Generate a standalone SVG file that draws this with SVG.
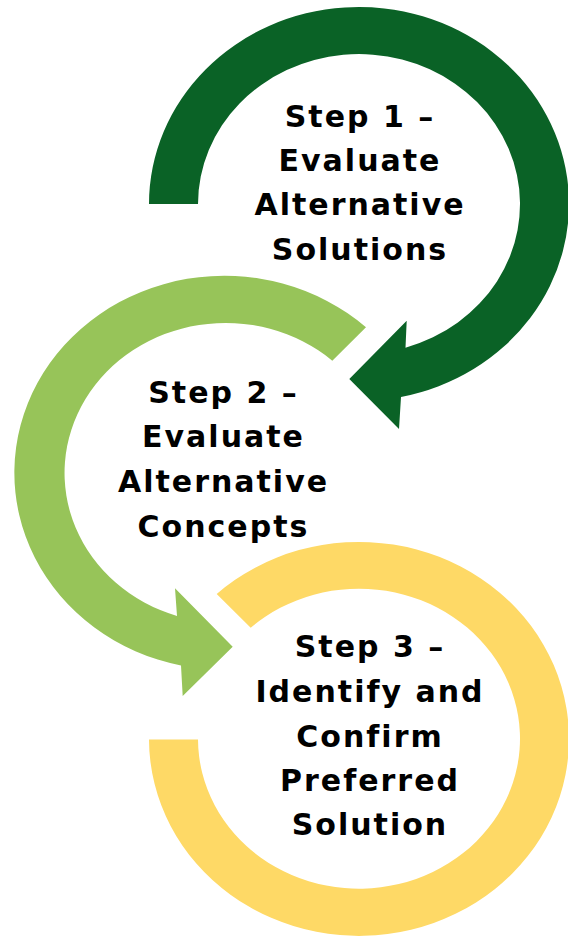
<svg xmlns="http://www.w3.org/2000/svg" width="568" height="936" viewBox="0 0 568 936">
<style>
.lbl{font-family:"DejaVu Sans","Liberation Sans",sans-serif;font-weight:700;font-size:30px;letter-spacing:2px;fill:#000;text-anchor:middle}
.dark{fill:#0a6226}
.light{fill:#97c459}
.gold{fill:#fed966}
</style>
<rect width="568" height="936" fill="#fff"/>
<g id="connectors">
<path id="arrow1" class="dark" d="M149,204 A210 197 0 1 1 401,397 L399,429 L349.3,379 L406.7,320.7 L405.5,347.7 A161 150 0 1 0 198,204 Z"/>
<path id="arrow2" class="light" d="M366,327.3 A210 197 0 1 0 181,665.5 L182.7,696 L232.7,646.7 L175,588.3 L177,616 A161 150 0 1 1 332.3,360.7 Z"/>
<path id="arrow3" class="gold" d="M216.7,594 A210 197 0 1 1 149,739.5 L198,739.5 A161 150 0 1 0 250.7,627.7 Z"/>
</g>
<g id="step1">
<text class="lbl" x="360" y="126.7">Step 1 –</text>
<text class="lbl" x="360" y="170.7">Evaluate</text>
<text class="lbl" x="360" y="215">Alternative</text>
<text class="lbl" x="360" y="260">Solutions</text>
</g>
<g id="step2">
<text class="lbl" x="223.5" y="403.3">Step 2 –</text>
<text class="lbl" x="223.5" y="447">Evaluate</text>
<text class="lbl" x="223.5" y="491.7">Alternative</text>
<text class="lbl" x="223.5" y="536.7">Concepts</text>
</g>
<g id="step3">
<text class="lbl" x="370" y="656.7">Step 3 –</text>
<text class="lbl" x="370" y="701.7">Identify and</text>
<text class="lbl" x="370" y="746.7">Confirm</text>
<text class="lbl" x="370" y="790.5">Preferred</text>
<text class="lbl" x="370" y="835">Solution</text>
</g>
</svg>
